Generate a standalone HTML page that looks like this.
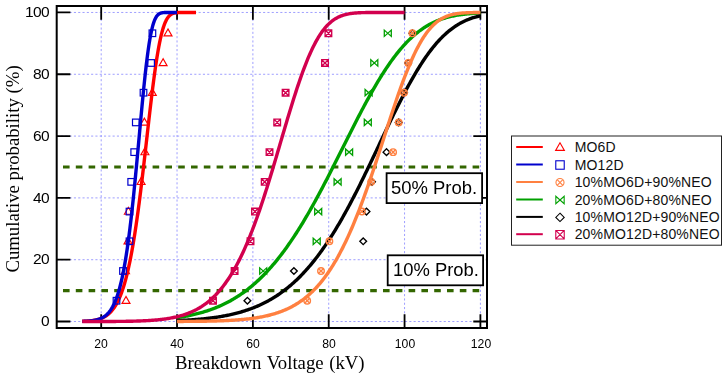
<!DOCTYPE html>
<html><head><meta charset="utf-8"><title>Weibull plot</title>
<style>
html,body{margin:0;padding:0;background:#fff;}
#c{position:relative;width:728px;height:379px;overflow:hidden;background:#fff;font-family:"Liberation Sans",sans-serif;color:#000;}
.t{position:absolute;white-space:nowrap;font-family:"Liberation Sans",sans-serif;}
.g{will-change:transform;}
</style></head><body><div id="c">
<svg width="728" height="379" viewBox="0 0 728 379" style="position:absolute;left:0;top:0">
<path d="M101.20,6.00 V328.00 M177.04,6.00 V328.00 M252.88,6.00 V328.00 M328.72,6.00 V328.00 M404.56,6.00 V328.00 M480.40,6.00 V328.00 M56.70,321.52 H487.00 M56.70,259.71 H487.00 M56.70,197.90 H487.00 M56.70,136.08 H487.00 M56.70,74.27 H487.00 M56.70,12.46 H487.00" stroke="#9494ff" stroke-width="0.9" stroke-dasharray="2.1 2.2" fill="none"/>
<path d="M101.20,328.00 v-13.70 M101.20,6.00 v13.70 M177.04,328.00 v-13.70 M177.04,6.00 v13.70 M252.88,328.00 v-13.70 M252.88,6.00 v13.70 M328.72,328.00 v-13.70 M328.72,6.00 v13.70 M404.56,328.00 v-13.70 M404.56,6.00 v13.70 M480.40,328.00 v-13.70 M480.40,6.00 v13.70 M56.70,321.52 h13.70 M487.00,321.52 h-13.70 M56.70,259.71 h13.70 M487.00,259.71 h-13.70 M56.70,197.90 h13.70 M487.00,197.90 h-13.70 M56.70,136.08 h13.70 M487.00,136.08 h-13.70 M56.70,74.27 h13.70 M487.00,74.27 h-13.70 M56.70,12.46 h13.70 M487.00,12.46 h-13.70" stroke="#000" stroke-width="1.8" fill="none"/>
<rect x="56.70" y="6.00" width="430.30" height="322.00" stroke="#000" stroke-width="2" fill="none"/>
<path d="M63,166.99 H479.2" stroke="#336600" stroke-width="3.2" stroke-dasharray="6.6 6.2" fill="none"/>
<path d="M63,290.61 H479.2" stroke="#336600" stroke-width="3.2" stroke-dasharray="6.6 6.2" fill="none"/>
<path d="M126.00,296.47 L122.02,303.37 L129.98,303.37 Z" stroke="#ff0000" stroke-width="1.15" fill="none" stroke-linejoin="miter"/>
<path d="M125.50,266.75 L121.52,273.65 L129.48,273.65 Z" stroke="#ff0000" stroke-width="1.15" fill="none" stroke-linejoin="miter"/>
<path d="M128.00,237.03 L124.02,243.93 L131.98,243.93 Z" stroke="#ff0000" stroke-width="1.15" fill="none" stroke-linejoin="miter"/>
<path d="M128.40,207.32 L124.42,214.22 L132.38,214.22 Z" stroke="#ff0000" stroke-width="1.15" fill="none" stroke-linejoin="miter"/>
<path d="M141.10,177.60 L137.12,184.50 L145.08,184.50 Z" stroke="#ff0000" stroke-width="1.15" fill="none" stroke-linejoin="miter"/>
<path d="M144.90,147.88 L140.92,154.78 L148.88,154.78 Z" stroke="#ff0000" stroke-width="1.15" fill="none" stroke-linejoin="miter"/>
<path d="M144.40,118.16 L140.42,125.06 L148.38,125.06 Z" stroke="#ff0000" stroke-width="1.15" fill="none" stroke-linejoin="miter"/>
<path d="M152.30,88.45 L148.32,95.35 L156.28,95.35 Z" stroke="#ff0000" stroke-width="1.15" fill="none" stroke-linejoin="miter"/>
<path d="M163.10,58.73 L159.12,65.63 L167.08,65.63 Z" stroke="#ff0000" stroke-width="1.15" fill="none" stroke-linejoin="miter"/>
<path d="M168.00,29.01 L164.02,35.91 L171.98,35.91 Z" stroke="#ff0000" stroke-width="1.15" fill="none" stroke-linejoin="miter"/>
<path d="M82.24,321.31 L82.62,321.30 L83.00,321.29 L83.38,321.27 L83.76,321.26 L84.14,321.24 L84.52,321.22 L84.89,321.20 L85.27,321.18 L85.65,321.16 L86.03,321.14 L86.41,321.12 L86.79,321.09 L87.17,321.07 L87.55,321.04 L87.93,321.01 L88.31,320.98 L88.69,320.95 L89.07,320.92 L89.44,320.88 L89.82,320.84 L90.20,320.81 L90.58,320.76 L90.96,320.72 L91.34,320.68 L91.72,320.63 L92.10,320.58 L92.48,320.53 L92.86,320.47 L93.24,320.42 L93.62,320.36 L94.00,320.29 L94.37,320.23 L94.75,320.16 L95.13,320.09 L95.51,320.01 L95.89,319.93 L96.27,319.85 L96.65,319.76 L97.03,319.67 L97.41,319.58 L97.79,319.48 L98.17,319.38 L98.55,319.27 L98.92,319.16 L99.30,319.04 L99.68,318.92 L100.06,318.79 L100.44,318.65 L100.82,318.51 L101.20,318.37 L101.58,318.22 L101.96,318.06 L102.34,317.89 L102.72,317.72 L103.10,317.54 L103.48,317.35 L103.85,317.16 L104.23,316.95 L104.61,316.74 L104.99,316.52 L105.37,316.29 L105.75,316.06 L106.13,315.81 L106.51,315.55 L106.89,315.28 L107.27,315.01 L107.65,314.72 L108.03,314.42 L108.40,314.11 L108.78,313.78 L109.16,313.45 L109.54,313.10 L109.92,312.73 L110.30,312.36 L110.68,311.97 L111.06,311.56 L111.44,311.14 L111.82,310.71 L112.20,310.26 L112.58,309.79 L112.96,309.31 L113.33,308.81 L113.71,308.29 L114.09,307.75 L114.47,307.20 L114.85,306.62 L115.23,306.03 L115.61,305.41 L115.99,304.78 L116.37,304.12 L116.75,303.44 L117.13,302.73 L117.51,302.01 L117.88,301.26 L118.26,300.48 L118.64,299.68 L119.02,298.86 L119.40,298.00 L119.78,297.13 L120.16,296.22 L120.54,295.28 L120.92,294.32 L121.30,293.32 L121.68,292.30 L122.06,291.25 L122.44,290.16 L122.81,289.04 L123.19,287.89 L123.57,286.70 L123.95,285.48 L124.33,284.23 L124.71,282.94 L125.09,281.61 L125.47,280.25 L125.85,278.85 L126.23,277.41 L126.61,275.94 L126.99,274.42 L127.36,272.87 L127.74,271.27 L128.12,269.63 L128.50,267.96 L128.88,266.24 L129.26,264.48 L129.64,262.67 L130.02,260.82 L130.40,258.93 L130.78,257.00 L131.16,255.02 L131.54,253.00 L131.92,250.93 L132.29,248.81 L132.67,246.66 L133.05,244.45 L133.43,242.20 L133.81,239.91 L134.19,237.57 L134.57,235.19 L134.95,232.76 L135.33,230.28 L135.71,227.77 L136.09,225.20 L136.47,222.60 L136.84,219.95 L137.22,217.25 L137.60,214.52 L137.98,211.74 L138.36,208.92 L138.74,206.07 L139.12,203.17 L139.50,200.24 L139.88,197.26 L140.26,194.26 L140.64,191.22 L141.02,188.14 L141.40,185.03 L141.77,181.90 L142.15,178.73 L142.53,175.54 L142.91,172.32 L143.29,169.08 L143.67,165.82 L144.05,162.54 L144.43,159.24 L144.81,155.93 L145.19,152.60 L145.57,149.26 L145.95,145.92 L146.32,142.57 L146.70,139.21 L147.08,135.86 L147.46,132.51 L147.84,129.16 L148.22,125.82 L148.60,122.50 L148.98,119.18 L149.36,115.88 L149.74,112.60 L150.12,109.35 L150.50,106.11 L150.88,102.91 L151.25,99.74 L151.63,96.59 L152.01,93.49 L152.39,90.42 L152.77,87.40 L153.15,84.42 L153.53,81.49 L153.91,78.61 L154.29,75.77 L154.67,73.00 L155.05,70.28 L155.43,67.61 L155.80,65.01 L156.18,62.47 L156.56,60.00 L156.94,57.59 L157.32,55.24 L157.70,52.97 L158.08,50.76 L158.46,48.63 L158.84,46.56 L159.22,44.57 L159.60,42.65 L159.98,40.80 L160.36,39.02 L160.73,37.32 L161.11,35.69 L161.49,34.13 L161.87,32.64 L162.25,31.22 L162.63,29.87 L163.01,28.59 L163.39,27.38 L163.77,26.23 L164.15,25.15 L164.53,24.13 L164.91,23.17 L165.28,22.27 L165.66,21.43 L166.04,20.64 L166.42,19.90 L166.80,19.22 L167.18,18.59 L167.56,18.00 L167.94,17.46 L168.32,16.96 L168.70,16.50 L169.08,16.08 L169.46,15.69 L169.84,15.34 L170.21,15.02 L170.59,14.73 L170.97,14.47 L171.35,14.23 L171.73,14.01 L172.11,13.82 L172.49,13.65 L172.87,13.50 L173.25,13.36 L173.63,13.24 L174.01,13.13 L174.39,13.04 L174.76,12.96 L175.14,12.89 L175.52,12.82 L175.90,12.77 L176.28,12.72 L176.66,12.68 L177.04,12.64 L177.42,12.61 L177.80,12.59 L178.18,12.57 L178.56,12.55 L178.94,12.53 L179.32,12.52 L179.69,12.51 L180.07,12.50 L180.45,12.49 L180.83,12.49 L181.21,12.48 L181.59,12.48 L181.97,12.47 L182.35,12.47 L182.73,12.47 L183.11,12.47 L183.49,12.47 L183.87,12.46 L184.24,12.46 L184.62,12.46 L185.00,12.46 L185.38,12.46 L185.76,12.46 L186.14,12.46 L186.52,12.46 L186.90,12.46 L187.28,12.46 L187.66,12.46 L188.04,12.46 L188.42,12.46 L188.80,12.46 L189.17,12.46 L189.55,12.46 L189.93,12.46 L190.31,12.46 L190.69,12.46 L191.07,12.46 L191.45,12.46 L191.83,12.46 L192.21,12.46 L192.59,12.46 L192.97,12.46 L193.35,12.46 L193.72,12.46 L194.10,12.46 L194.48,12.46 L194.86,12.46 L195.24,12.46 L195.62,12.46 L196.00,12.46" stroke="#ff0000" stroke-width="3.4" fill="none" stroke-linejoin="round"/>
<rect x="113.20" y="297.42" width="6.60" height="6.60" stroke="#0000cd" stroke-width="1.20" fill="none" stroke-linejoin="miter"/>
<rect x="119.70" y="267.70" width="6.60" height="6.60" stroke="#0000cd" stroke-width="1.20" fill="none" stroke-linejoin="miter"/>
<rect x="126.20" y="237.98" width="6.60" height="6.60" stroke="#0000cd" stroke-width="1.20" fill="none" stroke-linejoin="miter"/>
<rect x="126.20" y="208.27" width="6.60" height="6.60" stroke="#0000cd" stroke-width="1.20" fill="none" stroke-linejoin="miter"/>
<rect x="127.90" y="178.55" width="6.60" height="6.60" stroke="#0000cd" stroke-width="1.20" fill="none" stroke-linejoin="miter"/>
<rect x="130.90" y="148.83" width="6.60" height="6.60" stroke="#0000cd" stroke-width="1.20" fill="none" stroke-linejoin="miter"/>
<rect x="132.50" y="119.11" width="6.60" height="6.60" stroke="#0000cd" stroke-width="1.20" fill="none" stroke-linejoin="miter"/>
<rect x="140.20" y="89.40" width="6.60" height="6.60" stroke="#0000cd" stroke-width="1.20" fill="none" stroke-linejoin="miter"/>
<rect x="147.80" y="59.68" width="6.60" height="6.60" stroke="#0000cd" stroke-width="1.20" fill="none" stroke-linejoin="miter"/>
<rect x="149.10" y="29.96" width="6.60" height="6.60" stroke="#0000cd" stroke-width="1.20" fill="none" stroke-linejoin="miter"/>
<path d="M82.24,321.38 L82.56,321.37 L82.87,321.37 L83.19,321.36 L83.50,321.35 L83.82,321.34 L84.14,321.32 L84.45,321.31 L84.77,321.30 L85.08,321.29 L85.40,321.27 L85.72,321.26 L86.03,321.24 L86.35,321.23 L86.66,321.21 L86.98,321.19 L87.30,321.17 L87.61,321.15 L87.93,321.13 L88.24,321.11 L88.56,321.08 L88.88,321.06 L89.19,321.03 L89.51,321.01 L89.82,320.98 L90.14,320.95 L90.46,320.92 L90.77,320.88 L91.09,320.85 L91.40,320.81 L91.72,320.78 L92.04,320.74 L92.35,320.69 L92.67,320.65 L92.98,320.60 L93.30,320.56 L93.62,320.51 L93.93,320.45 L94.25,320.40 L94.56,320.34 L94.88,320.28 L95.20,320.22 L95.51,320.15 L95.83,320.08 L96.14,320.01 L96.46,319.93 L96.78,319.85 L97.09,319.77 L97.41,319.68 L97.72,319.59 L98.04,319.50 L98.36,319.40 L98.67,319.30 L98.99,319.19 L99.30,319.08 L99.62,318.96 L99.94,318.84 L100.25,318.71 L100.57,318.58 L100.88,318.44 L101.20,318.30 L101.52,318.15 L101.83,317.99 L102.15,317.83 L102.46,317.66 L102.78,317.48 L103.10,317.30 L103.41,317.11 L103.73,316.91 L104.04,316.70 L104.36,316.49 L104.68,316.26 L104.99,316.03 L105.31,315.79 L105.62,315.54 L105.94,315.28 L106.26,315.00 L106.57,314.72 L106.89,314.43 L107.20,314.12 L107.52,313.81 L107.84,313.48 L108.15,313.14 L108.47,312.79 L108.78,312.42 L109.10,312.04 L109.42,311.64 L109.73,311.23 L110.05,310.81 L110.36,310.37 L110.68,309.92 L111.00,309.44 L111.31,308.95 L111.63,308.45 L111.94,307.92 L112.26,307.38 L112.58,306.82 L112.89,306.24 L113.21,305.63 L113.52,305.01 L113.84,304.37 L114.16,303.70 L114.47,303.01 L114.79,302.30 L115.10,301.57 L115.42,300.81 L115.74,300.02 L116.05,299.21 L116.37,298.38 L116.68,297.51 L117.00,296.62 L117.32,295.70 L117.63,294.75 L117.95,293.77 L118.26,292.77 L118.58,291.73 L118.90,290.65 L119.21,289.55 L119.53,288.41 L119.84,287.24 L120.16,286.04 L120.48,284.79 L120.79,283.52 L121.11,282.20 L121.42,280.85 L121.74,279.46 L122.06,278.04 L122.37,276.57 L122.69,275.06 L123.00,273.51 L123.32,271.92 L123.64,270.29 L123.95,268.62 L124.27,266.90 L124.58,265.14 L124.90,263.33 L125.22,261.48 L125.53,259.59 L125.85,257.65 L126.16,255.66 L126.48,253.63 L126.80,251.55 L127.11,249.42 L127.43,247.25 L127.74,245.03 L128.06,242.76 L128.38,240.44 L128.69,238.08 L129.01,235.66 L129.32,233.20 L129.64,230.70 L129.96,228.14 L130.27,225.54 L130.59,222.89 L130.90,220.20 L131.22,217.46 L131.54,214.67 L131.85,211.84 L132.17,208.96 L132.48,206.05 L132.80,203.09 L133.12,200.09 L133.43,197.05 L133.75,193.97 L134.06,190.85 L134.38,187.70 L134.70,184.51 L135.01,181.29 L135.33,178.04 L135.64,174.76 L135.96,171.45 L136.28,168.12 L136.59,164.76 L136.91,161.38 L137.22,157.98 L137.54,154.57 L137.86,151.14 L138.17,147.70 L138.49,144.26 L138.80,140.80 L139.12,137.34 L139.44,133.89 L139.75,130.43 L140.07,126.98 L140.38,123.54 L140.70,120.11 L141.02,116.70 L141.33,113.31 L141.65,109.93 L141.96,106.58 L142.28,103.26 L142.60,99.97 L142.91,96.71 L143.23,93.50 L143.54,90.32 L143.86,87.18 L144.18,84.09 L144.49,81.06 L144.81,78.07 L145.12,75.14 L145.44,72.27 L145.76,69.45 L146.07,66.70 L146.39,64.02 L146.70,61.40 L147.02,58.85 L147.34,56.37 L147.65,53.97 L147.97,51.64 L148.28,49.38 L148.60,47.20 L148.92,45.10 L149.23,43.07 L149.55,41.12 L149.86,39.26 L150.18,37.47 L150.50,35.75 L150.81,34.12 L151.13,32.56 L151.44,31.08 L151.76,29.68 L152.08,28.35 L152.39,27.09 L152.71,25.91 L153.02,24.79 L153.34,23.74 L153.66,22.76 L153.97,21.84 L154.29,20.99 L154.60,20.19 L154.92,19.45 L155.24,18.77 L155.55,18.14 L155.87,17.56 L156.18,17.02 L156.50,16.53 L156.82,16.09 L157.13,15.68 L157.45,15.31 L157.76,14.98 L158.08,14.67 L158.40,14.40 L158.71,14.16 L159.03,13.94 L159.34,13.75 L159.66,13.57 L159.98,13.42 L160.29,13.29 L160.61,13.17 L160.92,13.07 L161.24,12.97 L161.56,12.90 L161.87,12.83 L162.19,12.77 L162.50,12.72 L162.82,12.68 L163.14,12.64 L163.45,12.61 L163.77,12.58 L164.08,12.56 L164.40,12.54 L164.72,12.53 L165.03,12.51 L165.35,12.50 L165.66,12.49 L165.98,12.49 L166.30,12.48 L166.61,12.48 L166.93,12.47 L167.24,12.47 L167.56,12.47 L167.88,12.47 L168.19,12.46 L168.51,12.46 L168.82,12.46 L169.14,12.46 L169.46,12.46 L169.77,12.46 L170.09,12.46 L170.40,12.46 L170.72,12.46 L171.04,12.46 L171.35,12.46 L171.67,12.46 L171.98,12.46 L172.30,12.46 L172.62,12.46 L172.93,12.46 L173.25,12.46 L173.56,12.46 L173.88,12.46 L174.20,12.46 L174.51,12.46 L174.83,12.46 L175.14,12.46 L175.46,12.46 L175.78,12.46 L176.09,12.46 L176.41,12.46 L176.72,12.46 L177.04,12.46" stroke="#0000cd" stroke-width="3.4" fill="none" stroke-linejoin="round"/>
<path d="M259.70,267.85 L259.70,274.15 L266.70,267.85 L266.70,274.15 Z" stroke="#00a000" stroke-width="1.30" fill="none" stroke-linejoin="miter"/>
<path d="M313.20,238.13 L313.20,244.43 L320.20,238.13 L320.20,244.43 Z" stroke="#00a000" stroke-width="1.30" fill="none" stroke-linejoin="miter"/>
<path d="M314.70,208.42 L314.70,214.72 L321.70,208.42 L321.70,214.72 Z" stroke="#00a000" stroke-width="1.30" fill="none" stroke-linejoin="miter"/>
<path d="M334.10,178.70 L334.10,185.00 L341.10,178.70 L341.10,185.00 Z" stroke="#00a000" stroke-width="1.30" fill="none" stroke-linejoin="miter"/>
<path d="M345.60,148.98 L345.60,155.28 L352.60,148.98 L352.60,155.28 Z" stroke="#00a000" stroke-width="1.30" fill="none" stroke-linejoin="miter"/>
<path d="M364.30,119.26 L364.30,125.56 L371.30,119.26 L371.30,125.56 Z" stroke="#00a000" stroke-width="1.30" fill="none" stroke-linejoin="miter"/>
<path d="M365.10,89.55 L365.10,95.85 L372.10,89.55 L372.10,95.85 Z" stroke="#00a000" stroke-width="1.30" fill="none" stroke-linejoin="miter"/>
<path d="M370.80,59.83 L370.80,66.13 L377.80,59.83 L377.80,66.13 Z" stroke="#00a000" stroke-width="1.30" fill="none" stroke-linejoin="miter"/>
<path d="M384.30,30.11 L384.30,36.41 L391.30,30.11 L391.30,36.41 Z" stroke="#00a000" stroke-width="1.30" fill="none" stroke-linejoin="miter"/>
<path d="M177.04,317.65 L178.05,317.50 L179.06,317.35 L180.07,317.19 L181.08,317.03 L182.10,316.87 L183.11,316.69 L184.12,316.52 L185.13,316.34 L186.14,316.15 L187.15,315.96 L188.16,315.76 L189.17,315.55 L190.19,315.35 L191.20,315.13 L192.21,314.91 L193.22,314.68 L194.23,314.45 L195.24,314.21 L196.25,313.96 L197.26,313.71 L198.28,313.44 L199.29,313.18 L200.30,312.90 L201.31,312.62 L202.32,312.33 L203.33,312.03 L204.34,311.73 L205.35,311.42 L206.36,311.10 L207.38,310.77 L208.39,310.43 L209.40,310.09 L210.41,309.73 L211.42,309.37 L212.43,309.00 L213.44,308.62 L214.45,308.23 L215.47,307.83 L216.48,307.43 L217.49,307.01 L218.50,306.58 L219.51,306.14 L220.52,305.70 L221.53,305.24 L222.54,304.77 L223.56,304.29 L224.57,303.80 L225.58,303.30 L226.59,302.79 L227.60,302.27 L228.61,301.74 L229.62,301.19 L230.63,300.64 L231.64,300.07 L232.66,299.49 L233.67,298.89 L234.68,298.29 L235.69,297.67 L236.70,297.04 L237.71,296.40 L238.72,295.74 L239.73,295.07 L240.75,294.39 L241.76,293.69 L242.77,292.99 L243.78,292.26 L244.79,291.53 L245.80,290.78 L246.81,290.01 L247.82,289.23 L248.84,288.44 L249.85,287.63 L250.86,286.81 L251.87,285.97 L252.88,285.12 L253.89,284.25 L254.90,283.36 L255.91,282.47 L256.92,281.55 L257.94,280.62 L258.95,279.68 L259.96,278.72 L260.97,277.74 L261.98,276.75 L262.99,275.74 L264.00,274.71 L265.01,273.67 L266.03,272.61 L267.04,271.53 L268.05,270.44 L269.06,269.33 L270.07,268.21 L271.08,267.07 L272.09,265.91 L273.10,264.73 L274.12,263.54 L275.13,262.33 L276.14,261.10 L277.15,259.86 L278.16,258.60 L279.17,257.32 L280.18,256.02 L281.19,254.71 L282.20,253.38 L283.22,252.03 L284.23,250.67 L285.24,249.29 L286.25,247.89 L287.26,246.48 L288.27,245.04 L289.28,243.60 L290.29,242.13 L291.31,240.65 L292.32,239.15 L293.33,237.63 L294.34,236.10 L295.35,234.55 L296.36,232.98 L297.37,231.40 L298.38,229.81 L299.40,228.19 L300.41,226.56 L301.42,224.92 L302.43,223.26 L303.44,221.58 L304.45,219.89 L305.46,218.19 L306.47,216.47 L307.48,214.73 L308.50,212.99 L309.51,211.22 L310.52,209.45 L311.53,207.66 L312.54,205.86 L313.55,204.04 L314.56,202.22 L315.57,200.38 L316.59,198.52 L317.60,196.66 L318.61,194.79 L319.62,192.90 L320.63,191.01 L321.64,189.10 L322.65,187.19 L323.66,185.26 L324.68,183.33 L325.69,181.39 L326.70,179.44 L327.71,177.48 L328.72,175.51 L329.73,173.54 L330.74,171.56 L331.75,169.58 L332.76,167.59 L333.78,165.59 L334.79,163.59 L335.80,161.59 L336.81,159.58 L337.82,157.57 L338.83,155.56 L339.84,153.54 L340.85,151.53 L341.87,149.51 L342.88,147.49 L343.89,145.48 L344.90,143.46 L345.91,141.45 L346.92,139.43 L347.93,137.42 L348.94,135.41 L349.96,133.41 L350.97,131.41 L351.98,129.41 L352.99,127.42 L354.00,125.44 L355.01,123.46 L356.02,121.49 L357.03,119.52 L358.04,117.57 L359.06,115.62 L360.07,113.68 L361.08,111.75 L362.09,109.83 L363.10,107.93 L364.11,106.03 L365.12,104.15 L366.13,102.27 L367.15,100.41 L368.16,98.57 L369.17,96.74 L370.18,94.92 L371.19,93.12 L372.20,91.33 L373.21,89.56 L374.22,87.80 L375.24,86.07 L376.25,84.35 L377.26,82.64 L378.27,80.96 L379.28,79.29 L380.29,77.65 L381.30,76.02 L382.31,74.41 L383.32,72.82 L384.34,71.26 L385.35,69.71 L386.36,68.18 L387.37,66.68 L388.38,65.20 L389.39,63.74 L390.40,62.30 L391.41,60.88 L392.43,59.49 L393.44,58.12 L394.45,56.77 L395.46,55.45 L396.47,54.15 L397.48,52.87 L398.49,51.62 L399.50,50.39 L400.52,49.18 L401.53,48.00 L402.54,46.84 L403.55,45.70 L404.56,44.59 L405.57,43.51 L406.58,42.44 L407.59,41.40 L408.60,40.39 L409.62,39.40 L410.63,38.43 L411.64,37.48 L412.65,36.56 L413.66,35.66 L414.67,34.79 L415.68,33.94 L416.69,33.11 L417.71,32.30 L418.72,31.52 L419.73,30.76 L420.74,30.02 L421.75,29.30 L422.76,28.60 L423.77,27.92 L424.78,27.27 L425.80,26.63 L426.81,26.02 L427.82,25.42 L428.83,24.85 L429.84,24.29 L430.85,23.75 L431.86,23.23 L432.87,22.73 L433.88,22.25 L434.90,21.79 L435.91,21.34 L436.92,20.91 L437.93,20.49 L438.94,20.09 L439.95,19.71 L440.96,19.34 L441.97,18.99 L442.99,18.65 L444.00,18.32 L445.01,18.01 L446.02,17.71 L447.03,17.43 L448.04,17.16 L449.05,16.90 L450.06,16.65 L451.08,16.41 L452.09,16.18 L453.10,15.97 L454.11,15.76 L455.12,15.57 L456.13,15.38 L457.14,15.20 L458.15,15.04 L459.16,14.88 L460.18,14.73 L461.19,14.58 L462.20,14.45 L463.21,14.32 L464.22,14.20 L465.23,14.09 L466.24,13.98 L467.25,13.88 L468.27,13.78 L469.28,13.69 L470.29,13.60 L471.30,13.52 L472.31,13.45 L473.32,13.38 L474.33,13.31 L475.34,13.25 L476.36,13.19 L477.37,13.14 L478.38,13.09 L479.39,13.04 L480.40,13.00" stroke="#00a000" stroke-width="3.4" fill="none" stroke-linejoin="round"/>
<path d="M247.40,297.37 L250.75,300.72 L247.40,304.07 L244.05,300.72 Z" stroke="#000000" stroke-width="1.40" fill="none" stroke-linejoin="miter"/>
<path d="M293.90,267.65 L297.25,271.00 L293.90,274.35 L290.55,271.00 Z" stroke="#000000" stroke-width="1.40" fill="none" stroke-linejoin="miter"/>
<path d="M363.20,237.93 L366.55,241.28 L363.20,244.63 L359.85,241.28 Z" stroke="#000000" stroke-width="1.40" fill="none" stroke-linejoin="miter"/>
<path d="M366.50,208.22 L369.85,211.57 L366.50,214.92 L363.15,211.57 Z" stroke="#000000" stroke-width="1.40" fill="none" stroke-linejoin="miter"/>
<path d="M372.00,178.50 L375.35,181.85 L372.00,185.20 L368.65,181.85 Z" stroke="#000000" stroke-width="1.40" fill="none" stroke-linejoin="miter"/>
<path d="M386.50,148.78 L389.85,152.13 L386.50,155.48 L383.15,152.13 Z" stroke="#000000" stroke-width="1.40" fill="none" stroke-linejoin="miter"/>
<path d="M398.70,119.06 L402.05,122.41 L398.70,125.76 L395.35,122.41 Z" stroke="#000000" stroke-width="1.40" fill="none" stroke-linejoin="miter"/>
<path d="M404.00,89.35 L407.35,92.70 L404.00,96.05 L400.65,92.70 Z" stroke="#000000" stroke-width="1.40" fill="none" stroke-linejoin="miter"/>
<path d="M408.20,59.63 L411.55,62.98 L408.20,66.33 L404.85,62.98 Z" stroke="#000000" stroke-width="1.40" fill="none" stroke-linejoin="miter"/>
<path d="M412.40,29.91 L415.75,33.26 L412.40,36.61 L409.05,33.26 Z" stroke="#000000" stroke-width="1.40" fill="none" stroke-linejoin="miter"/>
<path d="M177.04,320.59 L178.05,320.55 L179.06,320.50 L180.07,320.46 L181.08,320.41 L182.10,320.36 L183.11,320.31 L184.12,320.26 L185.13,320.21 L186.14,320.15 L187.15,320.09 L188.16,320.03 L189.17,319.97 L190.19,319.90 L191.20,319.84 L192.21,319.77 L193.22,319.70 L194.23,319.62 L195.24,319.55 L196.25,319.47 L197.26,319.38 L198.28,319.30 L199.29,319.21 L200.30,319.12 L201.31,319.03 L202.32,318.93 L203.33,318.83 L204.34,318.73 L205.35,318.62 L206.36,318.51 L207.38,318.40 L208.39,318.28 L209.40,318.16 L210.41,318.04 L211.42,317.91 L212.43,317.78 L213.44,317.64 L214.45,317.50 L215.47,317.36 L216.48,317.21 L217.49,317.06 L218.50,316.90 L219.51,316.74 L220.52,316.57 L221.53,316.40 L222.54,316.22 L223.56,316.04 L224.57,315.85 L225.58,315.66 L226.59,315.46 L227.60,315.26 L228.61,315.05 L229.62,314.83 L230.63,314.61 L231.64,314.39 L232.66,314.15 L233.67,313.91 L234.68,313.67 L235.69,313.41 L236.70,313.15 L237.71,312.89 L238.72,312.62 L239.73,312.33 L240.75,312.05 L241.76,311.75 L242.77,311.45 L243.78,311.14 L244.79,310.82 L245.80,310.49 L246.81,310.16 L247.82,309.81 L248.84,309.46 L249.85,309.10 L250.86,308.73 L251.87,308.35 L252.88,307.97 L253.89,307.57 L254.90,307.16 L255.91,306.75 L256.92,306.32 L257.94,305.88 L258.95,305.44 L259.96,304.98 L260.97,304.51 L261.98,304.04 L262.99,303.55 L264.00,303.05 L265.01,302.54 L266.03,302.01 L267.04,301.48 L268.05,300.93 L269.06,300.38 L270.07,299.81 L271.08,299.22 L272.09,298.63 L273.10,298.02 L274.12,297.40 L275.13,296.77 L276.14,296.12 L277.15,295.46 L278.16,294.79 L279.17,294.10 L280.18,293.40 L281.19,292.68 L282.20,291.95 L283.22,291.21 L284.23,290.45 L285.24,289.68 L286.25,288.89 L287.26,288.09 L288.27,287.27 L289.28,286.43 L290.29,285.58 L291.31,284.72 L292.32,283.83 L293.33,282.93 L294.34,282.02 L295.35,281.09 L296.36,280.14 L297.37,279.18 L298.38,278.20 L299.40,277.20 L300.41,276.18 L301.42,275.15 L302.43,274.10 L303.44,273.03 L304.45,271.94 L305.46,270.84 L306.47,269.72 L307.48,268.58 L308.50,267.42 L309.51,266.24 L310.52,265.05 L311.53,263.84 L312.54,262.61 L313.55,261.36 L314.56,260.09 L315.57,258.80 L316.59,257.49 L317.60,256.17 L318.61,254.83 L319.62,253.46 L320.63,252.08 L321.64,250.68 L322.65,249.26 L323.66,247.82 L324.68,246.37 L325.69,244.89 L326.70,243.40 L327.71,241.88 L328.72,240.35 L329.73,238.80 L330.74,237.23 L331.75,235.64 L332.76,234.04 L333.78,232.41 L334.79,230.77 L335.80,229.11 L336.81,227.43 L337.82,225.74 L338.83,224.02 L339.84,222.29 L340.85,220.54 L341.87,218.78 L342.88,216.99 L343.89,215.19 L344.90,213.38 L345.91,211.55 L346.92,209.70 L347.93,207.84 L348.94,205.96 L349.96,204.07 L350.97,202.16 L351.98,200.23 L352.99,198.30 L354.00,196.35 L355.01,194.39 L356.02,192.41 L357.03,190.42 L358.04,188.42 L359.06,186.41 L360.07,184.39 L361.08,182.35 L362.09,180.31 L363.10,178.25 L364.11,176.19 L365.12,174.12 L366.13,172.04 L367.15,169.95 L368.16,167.85 L369.17,165.75 L370.18,163.64 L371.19,161.53 L372.20,159.41 L373.21,157.29 L374.22,155.16 L375.24,153.03 L376.25,150.89 L377.26,148.76 L378.27,146.62 L379.28,144.49 L380.29,142.35 L381.30,140.21 L382.31,138.08 L383.32,135.95 L384.34,133.82 L385.35,131.69 L386.36,129.57 L387.37,127.45 L388.38,125.34 L389.39,123.23 L390.40,121.13 L391.41,119.04 L392.43,116.96 L393.44,114.88 L394.45,112.82 L395.46,110.77 L396.47,108.72 L397.48,106.69 L398.49,104.67 L399.50,102.66 L400.52,100.67 L401.53,98.69 L402.54,96.73 L403.55,94.78 L404.56,92.85 L405.57,90.94 L406.58,89.04 L407.59,87.16 L408.60,85.30 L409.62,83.46 L410.63,81.64 L411.64,79.84 L412.65,78.07 L413.66,76.31 L414.67,74.57 L415.68,72.86 L416.69,71.17 L417.71,69.50 L418.72,67.86 L419.73,66.24 L420.74,64.65 L421.75,63.08 L422.76,61.54 L423.77,60.02 L424.78,58.53 L425.80,57.06 L426.81,55.62 L427.82,54.21 L428.83,52.83 L429.84,51.47 L430.85,50.14 L431.86,48.84 L432.87,47.56 L433.88,46.31 L434.90,45.09 L435.91,43.90 L436.92,42.73 L437.93,41.60 L438.94,40.49 L439.95,39.41 L440.96,38.35 L441.97,37.33 L442.99,36.33 L444.00,35.35 L445.01,34.41 L446.02,33.49 L447.03,32.60 L448.04,31.73 L449.05,30.89 L450.06,30.08 L451.08,29.29 L452.09,28.53 L453.10,27.79 L454.11,27.08 L455.12,26.39 L456.13,25.73 L457.14,25.09 L458.15,24.47 L459.16,23.87 L460.18,23.30 L461.19,22.75 L462.20,22.22 L463.21,21.71 L464.22,21.22 L465.23,20.75 L466.24,20.30 L467.25,19.87 L468.27,19.46 L469.28,19.06 L470.29,18.69 L471.30,18.33 L472.31,17.98 L473.32,17.66 L474.33,17.35 L475.34,17.05 L476.36,16.77 L477.37,16.50 L478.38,16.24 L479.39,16.00 L480.40,15.77" stroke="#000000" stroke-width="3.4" fill="none" stroke-linejoin="round"/>
<path d="M209.70,297.42 h6.60 v6.60 h-6.60 Z M209.70,297.42 L216.30,304.02 M209.70,304.02 L216.30,297.42" stroke="#d2004e" stroke-width="1.35" fill="none" stroke-linejoin="miter"/>
<path d="M231.30,267.70 h6.60 v6.60 h-6.60 Z M231.30,267.70 L237.90,274.30 M231.30,274.30 L237.90,267.70" stroke="#d2004e" stroke-width="1.35" fill="none" stroke-linejoin="miter"/>
<path d="M247.20,237.98 h6.60 v6.60 h-6.60 Z M247.20,237.98 L253.80,244.58 M247.20,244.58 L253.80,237.98" stroke="#d2004e" stroke-width="1.35" fill="none" stroke-linejoin="miter"/>
<path d="M251.70,208.27 h6.60 v6.60 h-6.60 Z M251.70,208.27 L258.30,214.87 M251.70,214.87 L258.30,208.27" stroke="#d2004e" stroke-width="1.35" fill="none" stroke-linejoin="miter"/>
<path d="M261.40,178.55 h6.60 v6.60 h-6.60 Z M261.40,178.55 L268.00,185.15 M261.40,185.15 L268.00,178.55" stroke="#d2004e" stroke-width="1.35" fill="none" stroke-linejoin="miter"/>
<path d="M266.20,148.83 h6.60 v6.60 h-6.60 Z M266.20,148.83 L272.80,155.43 M266.20,155.43 L272.80,148.83" stroke="#d2004e" stroke-width="1.35" fill="none" stroke-linejoin="miter"/>
<path d="M273.90,119.11 h6.60 v6.60 h-6.60 Z M273.90,119.11 L280.50,125.71 M273.90,125.71 L280.50,119.11" stroke="#d2004e" stroke-width="1.35" fill="none" stroke-linejoin="miter"/>
<path d="M282.30,89.40 h6.60 v6.60 h-6.60 Z M282.30,89.40 L288.90,96.00 M282.30,96.00 L288.90,89.40" stroke="#d2004e" stroke-width="1.35" fill="none" stroke-linejoin="miter"/>
<path d="M321.70,59.68 h6.60 v6.60 h-6.60 Z M321.70,59.68 L328.30,66.28 M321.70,66.28 L328.30,59.68" stroke="#d2004e" stroke-width="1.35" fill="none" stroke-linejoin="miter"/>
<path d="M325.10,29.96 h6.60 v6.60 h-6.60 Z M325.10,29.96 L331.70,36.56 M325.10,36.56 L331.70,29.96" stroke="#d2004e" stroke-width="1.35" fill="none" stroke-linejoin="miter"/>
<path d="M82.24,321.52 L83.31,321.52 L84.39,321.52 L85.46,321.52 L86.54,321.52 L87.61,321.52 L88.69,321.51 L89.76,321.51 L90.84,321.51 L91.91,321.51 L92.98,321.51 L94.06,321.51 L95.13,321.51 L96.21,321.51 L97.28,321.50 L98.36,321.50 L99.43,321.50 L100.50,321.50 L101.58,321.50 L102.65,321.49 L103.73,321.49 L104.80,321.49 L105.88,321.48 L106.95,321.48 L108.03,321.48 L109.10,321.47 L110.17,321.47 L111.25,321.46 L112.32,321.45 L113.40,321.45 L114.47,321.44 L115.55,321.43 L116.62,321.42 L117.70,321.42 L118.77,321.41 L119.84,321.40 L120.92,321.38 L121.99,321.37 L123.07,321.36 L124.14,321.34 L125.22,321.33 L126.29,321.31 L127.36,321.29 L128.44,321.28 L129.51,321.26 L130.59,321.23 L131.66,321.21 L132.74,321.18 L133.81,321.16 L134.89,321.13 L135.96,321.10 L137.03,321.07 L138.11,321.03 L139.18,320.99 L140.26,320.96 L141.33,320.91 L142.41,320.87 L143.48,320.82 L144.56,320.77 L145.63,320.72 L146.70,320.66 L147.78,320.60 L148.85,320.53 L149.93,320.47 L151.00,320.39 L152.08,320.32 L153.15,320.24 L154.22,320.15 L155.30,320.06 L156.37,319.97 L157.45,319.87 L158.52,319.76 L159.60,319.65 L160.67,319.53 L161.75,319.40 L162.82,319.27 L163.89,319.13 L164.97,318.99 L166.04,318.83 L167.12,318.67 L168.19,318.50 L169.27,318.32 L170.34,318.13 L171.42,317.94 L172.49,317.73 L173.56,317.51 L174.64,317.28 L175.71,317.04 L176.79,316.79 L177.86,316.53 L178.94,316.25 L180.01,315.97 L181.08,315.66 L182.16,315.35 L183.23,315.02 L184.31,314.67 L185.38,314.31 L186.46,313.93 L187.53,313.54 L188.61,313.13 L189.68,312.70 L190.75,312.25 L191.83,311.78 L192.90,311.29 L193.98,310.79 L195.05,310.26 L196.13,309.71 L197.20,309.13 L198.28,308.53 L199.35,307.91 L200.42,307.26 L201.50,306.59 L202.57,305.89 L203.65,305.17 L204.72,304.41 L205.80,303.63 L206.87,302.82 L207.94,301.97 L209.02,301.10 L210.09,300.19 L211.17,299.25 L212.24,298.27 L213.32,297.26 L214.39,296.22 L215.47,295.14 L216.54,294.02 L217.61,292.86 L218.69,291.66 L219.76,290.43 L220.84,289.15 L221.91,287.83 L222.99,286.46 L224.06,285.06 L225.14,283.61 L226.21,282.11 L227.28,280.57 L228.36,278.98 L229.43,277.34 L230.51,275.66 L231.58,273.92 L232.66,272.14 L233.73,270.31 L234.80,268.42 L235.88,266.49 L236.95,264.50 L238.03,262.45 L239.10,260.36 L240.18,258.21 L241.25,256.01 L242.33,253.75 L243.40,251.44 L244.47,249.08 L245.55,246.66 L246.62,244.18 L247.70,241.66 L248.77,239.07 L249.85,236.44 L250.92,233.74 L252.00,231.00 L253.07,228.20 L254.14,225.35 L255.22,222.45 L256.29,219.49 L257.37,216.49 L258.44,213.43 L259.52,210.33 L260.59,207.18 L261.66,203.99 L262.74,200.75 L263.81,197.47 L264.89,194.15 L265.96,190.79 L267.04,187.39 L268.11,183.95 L269.19,180.48 L270.26,176.99 L271.33,173.46 L272.41,169.91 L273.48,166.33 L274.56,162.73 L275.63,159.12 L276.71,155.49 L277.78,151.84 L278.86,148.19 L279.93,144.54 L281.00,140.88 L282.08,137.22 L283.15,133.57 L284.23,129.92 L285.30,126.28 L286.38,122.66 L287.45,119.06 L288.52,115.48 L289.60,111.93 L290.67,108.41 L291.75,104.91 L292.82,101.46 L293.90,98.04 L294.97,94.67 L296.05,91.35 L297.12,88.07 L298.19,84.85 L299.27,81.68 L300.34,78.58 L301.42,75.53 L302.49,72.55 L303.57,69.64 L304.64,66.80 L305.72,64.03 L306.79,61.34 L307.86,58.72 L308.94,56.18 L310.01,53.72 L311.09,51.34 L312.16,49.04 L313.24,46.82 L314.31,44.69 L315.38,42.64 L316.46,40.67 L317.53,38.79 L318.61,36.99 L319.68,35.28 L320.76,33.64 L321.83,32.09 L322.91,30.61 L323.98,29.22 L325.05,27.90 L326.13,26.66 L327.20,25.49 L328.28,24.39 L329.35,23.36 L330.43,22.40 L331.50,21.50 L332.58,20.67 L333.65,19.89 L334.72,19.18 L335.80,18.51 L336.87,17.90 L337.95,17.34 L339.02,16.83 L340.10,16.36 L341.17,15.93 L342.24,15.54 L343.32,15.18 L344.39,14.86 L345.47,14.58 L346.54,14.32 L347.62,14.09 L348.69,13.88 L349.77,13.69 L350.84,13.53 L351.91,13.38 L352.99,13.26 L354.06,13.14 L355.14,13.04 L356.21,12.96 L357.29,12.88 L358.36,12.82 L359.44,12.76 L360.51,12.71 L361.58,12.67 L362.66,12.64 L363.73,12.61 L364.81,12.58 L365.88,12.56 L366.96,12.54 L368.03,12.53 L369.10,12.51 L370.18,12.50 L371.25,12.50 L372.33,12.49 L373.40,12.48 L374.48,12.48 L375.55,12.47 L376.63,12.47 L377.70,12.47 L378.77,12.47 L379.85,12.47 L380.92,12.46 L382.00,12.46 L383.07,12.46 L384.15,12.46 L385.22,12.46 L386.30,12.46 L387.37,12.46 L388.44,12.46 L389.52,12.46 L390.59,12.46 L391.67,12.46 L392.74,12.46 L393.82,12.46 L394.89,12.46 L395.96,12.46 L397.04,12.46 L398.11,12.46 L399.19,12.46 L400.26,12.46 L401.34,12.46 L402.41,12.46 L403.49,12.46 L404.56,12.46" stroke="#d2004e" stroke-width="3.4" fill="none" stroke-linejoin="round"/>
<circle cx="307.20" cy="300.72" r="3.25" stroke="#ff8040" stroke-width="1.40" fill="none" stroke-linejoin="miter"/><path d="M304.90,298.42 L309.50,303.02 M304.90,303.02 L309.50,298.42" stroke="#ff8040" stroke-width="1.40" fill="none" stroke-linejoin="miter"/>
<circle cx="321.00" cy="271.00" r="3.25" stroke="#ff8040" stroke-width="1.40" fill="none" stroke-linejoin="miter"/><path d="M318.70,268.70 L323.30,273.30 M318.70,273.30 L323.30,268.70" stroke="#ff8040" stroke-width="1.40" fill="none" stroke-linejoin="miter"/>
<circle cx="329.40" cy="241.28" r="3.25" stroke="#ff8040" stroke-width="1.40" fill="none" stroke-linejoin="miter"/><path d="M327.10,238.99 L331.70,243.58 M327.10,243.58 L331.70,238.99" stroke="#ff8040" stroke-width="1.40" fill="none" stroke-linejoin="miter"/>
<circle cx="361.90" cy="211.57" r="3.25" stroke="#ff8040" stroke-width="1.40" fill="none" stroke-linejoin="miter"/><path d="M359.60,209.27 L364.20,213.86 M359.60,213.86 L364.20,209.27" stroke="#ff8040" stroke-width="1.40" fill="none" stroke-linejoin="miter"/>
<circle cx="371.20" cy="181.85" r="3.25" stroke="#ff8040" stroke-width="1.40" fill="none" stroke-linejoin="miter"/><path d="M368.90,179.55 L373.50,184.15 M368.90,184.15 L373.50,179.55" stroke="#ff8040" stroke-width="1.40" fill="none" stroke-linejoin="miter"/>
<circle cx="393.10" cy="152.13" r="3.25" stroke="#ff8040" stroke-width="1.40" fill="none" stroke-linejoin="miter"/><path d="M390.80,149.83 L395.40,154.43 M390.80,154.43 L395.40,149.83" stroke="#ff8040" stroke-width="1.40" fill="none" stroke-linejoin="miter"/>
<circle cx="398.70" cy="122.41" r="3.25" stroke="#ff8040" stroke-width="1.40" fill="none" stroke-linejoin="miter"/><path d="M396.40,120.12 L401.00,124.71 M396.40,124.71 L401.00,120.12" stroke="#ff8040" stroke-width="1.40" fill="none" stroke-linejoin="miter"/>
<circle cx="404.00" cy="92.70" r="3.25" stroke="#ff8040" stroke-width="1.40" fill="none" stroke-linejoin="miter"/><path d="M401.70,90.40 L406.30,94.99 M401.70,94.99 L406.30,90.40" stroke="#ff8040" stroke-width="1.40" fill="none" stroke-linejoin="miter"/>
<circle cx="408.20" cy="62.98" r="3.25" stroke="#ff8040" stroke-width="1.40" fill="none" stroke-linejoin="miter"/><path d="M405.90,60.68 L410.50,65.28 M405.90,65.28 L410.50,60.68" stroke="#ff8040" stroke-width="1.40" fill="none" stroke-linejoin="miter"/>
<circle cx="412.40" cy="33.26" r="3.25" stroke="#ff8040" stroke-width="1.40" fill="none" stroke-linejoin="miter"/><path d="M410.10,30.96 L414.70,35.56 M410.10,35.56 L414.70,30.96" stroke="#ff8040" stroke-width="1.40" fill="none" stroke-linejoin="miter"/>
<path d="M177.04,321.46 L178.05,321.46 L179.06,321.45 L180.07,321.45 L181.08,321.44 L182.10,321.44 L183.11,321.43 L184.12,321.42 L185.13,321.42 L186.14,321.41 L187.15,321.41 L188.16,321.40 L189.17,321.39 L190.19,321.38 L191.20,321.37 L192.21,321.37 L193.22,321.36 L194.23,321.35 L195.24,321.34 L196.25,321.32 L197.26,321.31 L198.28,321.30 L199.29,321.29 L200.30,321.27 L201.31,321.26 L202.32,321.24 L203.33,321.23 L204.34,321.21 L205.35,321.19 L206.36,321.18 L207.38,321.16 L208.39,321.14 L209.40,321.12 L210.41,321.09 L211.42,321.07 L212.43,321.05 L213.44,321.02 L214.45,320.99 L215.47,320.96 L216.48,320.93 L217.49,320.90 L218.50,320.87 L219.51,320.84 L220.52,320.80 L221.53,320.76 L222.54,320.73 L223.56,320.68 L224.57,320.64 L225.58,320.60 L226.59,320.55 L227.60,320.50 L228.61,320.45 L229.62,320.40 L230.63,320.34 L231.64,320.28 L232.66,320.22 L233.67,320.16 L234.68,320.10 L235.69,320.03 L236.70,319.95 L237.71,319.88 L238.72,319.80 L239.73,319.72 L240.75,319.64 L241.76,319.55 L242.77,319.46 L243.78,319.36 L244.79,319.26 L245.80,319.16 L246.81,319.05 L247.82,318.94 L248.84,318.82 L249.85,318.70 L250.86,318.57 L251.87,318.44 L252.88,318.30 L253.89,318.16 L254.90,318.01 L255.91,317.86 L256.92,317.70 L257.94,317.54 L258.95,317.36 L259.96,317.18 L260.97,317.00 L261.98,316.81 L262.99,316.61 L264.00,316.40 L265.01,316.19 L266.03,315.96 L267.04,315.73 L268.05,315.49 L269.06,315.25 L270.07,314.99 L271.08,314.72 L272.09,314.45 L273.10,314.16 L274.12,313.86 L275.13,313.56 L276.14,313.24 L277.15,312.91 L278.16,312.57 L279.17,312.22 L280.18,311.86 L281.19,311.48 L282.20,311.09 L283.22,310.69 L284.23,310.27 L285.24,309.84 L286.25,309.40 L287.26,308.94 L288.27,308.47 L289.28,307.98 L290.29,307.47 L291.31,306.95 L292.32,306.41 L293.33,305.86 L294.34,305.29 L295.35,304.69 L296.36,304.08 L297.37,303.46 L298.38,302.81 L299.40,302.14 L300.41,301.45 L301.42,300.74 L302.43,300.01 L303.44,299.26 L304.45,298.48 L305.46,297.68 L306.47,296.86 L307.48,296.01 L308.50,295.14 L309.51,294.25 L310.52,293.33 L311.53,292.38 L312.54,291.41 L313.55,290.41 L314.56,289.38 L315.57,288.32 L316.59,287.24 L317.60,286.13 L318.61,284.98 L319.62,283.81 L320.63,282.60 L321.64,281.37 L322.65,280.10 L323.66,278.80 L324.68,277.47 L325.69,276.10 L326.70,274.70 L327.71,273.27 L328.72,271.80 L329.73,270.30 L330.74,268.76 L331.75,267.18 L332.76,265.57 L333.78,263.92 L334.79,262.24 L335.80,260.52 L336.81,258.76 L337.82,256.96 L338.83,255.12 L339.84,253.25 L340.85,251.33 L341.87,249.38 L342.88,247.39 L343.89,245.36 L344.90,243.29 L345.91,241.18 L346.92,239.03 L347.93,236.85 L348.94,234.62 L349.96,232.35 L350.97,230.05 L351.98,227.71 L352.99,225.32 L354.00,222.90 L355.01,220.45 L356.02,217.95 L357.03,215.42 L358.04,212.85 L359.06,210.25 L360.07,207.61 L361.08,204.93 L362.09,202.23 L363.10,199.49 L364.11,196.71 L365.12,193.91 L366.13,191.08 L367.15,188.22 L368.16,185.33 L369.17,182.41 L370.18,179.47 L371.19,176.50 L372.20,173.51 L373.21,170.50 L374.22,167.47 L375.24,164.43 L376.25,161.36 L377.26,158.29 L378.27,155.20 L379.28,152.09 L380.29,148.98 L381.30,145.87 L382.31,142.74 L383.32,139.62 L384.34,136.49 L385.35,133.37 L386.36,130.24 L387.37,127.13 L388.38,124.02 L389.39,120.92 L390.40,117.84 L391.41,114.77 L392.43,111.72 L393.44,108.68 L394.45,105.67 L395.46,102.68 L396.47,99.72 L397.48,96.79 L398.49,93.89 L399.50,91.02 L400.52,88.19 L401.53,85.40 L402.54,82.64 L403.55,79.93 L404.56,77.26 L405.57,74.64 L406.58,72.06 L407.59,69.54 L408.60,67.07 L409.62,64.65 L410.63,62.28 L411.64,59.97 L412.65,57.71 L413.66,55.52 L414.67,53.38 L415.68,51.31 L416.69,49.29 L417.71,47.34 L418.72,45.45 L419.73,43.62 L420.74,41.86 L421.75,40.15 L422.76,38.52 L423.77,36.94 L424.78,35.43 L425.80,33.98 L426.81,32.59 L427.82,31.26 L428.83,30.00 L429.84,28.79 L430.85,27.64 L431.86,26.55 L432.87,25.52 L433.88,24.54 L434.90,23.62 L435.91,22.75 L436.92,21.93 L437.93,21.16 L438.94,20.44 L439.95,19.76 L440.96,19.13 L441.97,18.54 L442.99,17.99 L444.00,17.48 L445.01,17.01 L446.02,16.58 L447.03,16.17 L448.04,15.80 L449.05,15.46 L450.06,15.15 L451.08,14.87 L452.09,14.61 L453.10,14.37 L454.11,14.16 L455.12,13.96 L456.13,13.79 L457.14,13.63 L458.15,13.49 L459.16,13.36 L460.18,13.25 L461.19,13.15 L462.20,13.06 L463.21,12.98 L464.22,12.91 L465.23,12.84 L466.24,12.79 L467.25,12.74 L468.27,12.70 L469.28,12.67 L470.29,12.63 L471.30,12.61 L472.31,12.58 L473.32,12.56 L474.33,12.55 L475.34,12.53 L476.36,12.52 L477.37,12.51 L478.38,12.50 L479.39,12.49 L480.40,12.49" stroke="#ff8040" stroke-width="3.4" fill="none" stroke-linejoin="round"/>
<rect x="386.6" y="173.2" width="95.5" height="29.9" fill="#fff" stroke="#000" stroke-width="1.8"/>
<rect x="484" y="257" width="1.9" height="6" fill="#fff"/>
<rect x="387.7" y="255.3" width="95.4" height="30.0" fill="#fff" stroke="#000" stroke-width="1.8"/>
<rect x="511.5" y="136" width="210" height="109.2" fill="#fff" stroke="#222" stroke-width="1"/>
<path d="M516.2,147.00 H542.8" stroke="#ff0000" stroke-width="2"/>
<path d="M560.00,142.79 L555.62,150.38 L564.38,150.38 Z" stroke="#ff0000" stroke-width="1.10" fill="none" stroke-linejoin="miter"/>
<path d="M516.2,164.50 H542.8" stroke="#0000cd" stroke-width="2"/>
<rect x="555.78" y="160.78" width="8.45" height="8.45" stroke="#0000cd" stroke-width="1.10" fill="none" stroke-linejoin="miter"/>
<path d="M516.2,182.00 H542.8" stroke="#ff8040" stroke-width="2"/>
<circle cx="560.00" cy="182.50" r="4.03" stroke="#ff8040" stroke-width="1.10" fill="none" stroke-linejoin="miter"/><path d="M557.15,179.65 L562.85,185.35 M557.15,185.35 L562.85,179.65" stroke="#ff8040" stroke-width="1.10" fill="none" stroke-linejoin="miter"/>
<path d="M516.2,199.50 H542.8" stroke="#00a000" stroke-width="2"/>
<path d="M555.84,196.25 L555.84,203.75 L564.16,196.25 L564.16,203.75 Z" stroke="#00a000" stroke-width="1.10" fill="none" stroke-linejoin="miter"/>
<path d="M516.2,216.90 H542.8" stroke="#000000" stroke-width="2"/>
<path d="M560.00,213.21 L564.19,217.40 L560.00,221.59 L555.81,217.40 Z" stroke="#000000" stroke-width="1.10" fill="none" stroke-linejoin="miter"/>
<path d="M516.2,234.20 H542.8" stroke="#d2004e" stroke-width="2"/>
<path d="M555.78,230.48 h8.45 v8.45 h-8.45 Z M555.78,230.48 L564.22,238.92 M555.78,238.92 L564.22,230.48" stroke="#d2004e" stroke-width="1.10" fill="none" stroke-linejoin="miter"/>
</svg>
<div class="t g" style="right:679.0px;top:313.1px;font-size:15.5px;letter-spacing:-0.6px;line-height:16px;">0</div>
<div class="t g" style="right:679.0px;top:251.3px;font-size:15.5px;letter-spacing:-0.6px;line-height:16px;">20</div>
<div class="t g" style="right:679.0px;top:189.5px;font-size:15.5px;letter-spacing:-0.6px;line-height:16px;">40</div>
<div class="t g" style="right:679.0px;top:127.7px;font-size:15.5px;letter-spacing:-0.6px;line-height:16px;">60</div>
<div class="t g" style="right:679.0px;top:65.9px;font-size:15.5px;letter-spacing:-0.6px;line-height:16px;">80</div>
<div class="t g" style="right:679.0px;top:4.1px;font-size:15.5px;letter-spacing:-0.6px;line-height:16px;">100</div>
<div class="t g" style="left:81.4px;top:337.0px;width:40px;text-align:center;font-size:12.2px;line-height:14px;">20</div>
<div class="t g" style="left:157.2px;top:337.0px;width:40px;text-align:center;font-size:12.2px;line-height:14px;">40</div>
<div class="t g" style="left:233.1px;top:337.0px;width:40px;text-align:center;font-size:12.2px;line-height:14px;">60</div>
<div class="t g" style="left:308.9px;top:337.0px;width:40px;text-align:center;font-size:12.2px;line-height:14px;">80</div>
<div class="t g" style="left:384.8px;top:337.0px;width:40px;text-align:center;font-size:12.2px;line-height:14px;">100</div>
<div class="t g" style="left:460.6px;top:337.0px;width:40px;text-align:center;font-size:12.2px;line-height:14px;">120</div>
<div class="t g" style="left:175.3px;top:352.4px;word-spacing:0.9px;font-family:'Liberation Serif',serif;font-size:18.75px;line-height:22px;">Breakdown Voltage (kV)</div>
<div class="t g" style="left:-93px;top:158px;width:212px;text-align:center;font-family:'Liberation Serif',serif;font-size:18.75px;line-height:22px;transform:rotate(-90deg);transform-origin:center center;">Cumulative probability (%)</div>
<div class="t g" style="left:390.6px;top:177.3px;font-size:18.45px;line-height:22px;">50% Prob.</div>
<div class="t g" style="left:393.2px;top:259.4px;font-size:18.4px;line-height:22px;">10% Prob.</div>
<div class="t" style="left:574.7px;top:139.0px;font-size:14px;line-height:16px;letter-spacing:0.15px;color:#111;">MO6D</div>
<div class="t" style="left:574.7px;top:156.5px;font-size:14px;line-height:16px;letter-spacing:0.15px;color:#111;">MO12D</div>
<div class="t" style="left:574.7px;top:174.0px;font-size:14px;line-height:16px;letter-spacing:0.15px;color:#111;">10%MO6D+90%NEO</div>
<div class="t" style="left:574.7px;top:191.5px;font-size:14px;line-height:16px;letter-spacing:0.15px;color:#111;">20%MO6D+80%NEO</div>
<div class="t" style="left:574.7px;top:208.9px;font-size:14px;line-height:16px;letter-spacing:0.15px;color:#111;">10%MO12D+90%NEO</div>
<div class="t" style="left:574.7px;top:226.2px;font-size:14px;line-height:16px;letter-spacing:0.15px;color:#111;">20%MO12D+80%NEO</div>
</div></body></html>
